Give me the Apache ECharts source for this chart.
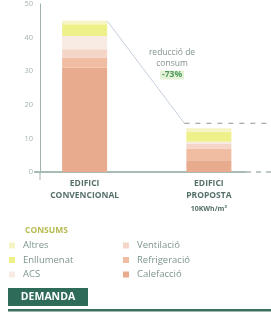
<!DOCTYPE html>
<html><head><meta charset="utf-8">
<script src="https://cdn.jsdelivr.net/npm/echarts@6/dist/echarts.min.js"></script>
<style>html,body{margin:0;padding:0;background:#fff;}#c{width:271px;height:319px;}</style>
</head><body><div id="c"></div>
<script>
const categories = ['EDIFICI\nCONVENCIONAL', 'EDIFICI\nPROPOSTA\n10KWh/m²'];
const seriesNames = ['Calefacció', 'Refrigeració', 'Ventilació', 'ACS', 'Enllumenat', 'Altres'];
const calefaccio = [31, 3.5];
const refrigeracio = [3, 3.5];
const ventilacio = [2.5, 1.5];
const acs = [4, 0.5];
const enllumenat = [3.5, 3];
const altres = [1, 1];
const yTicks = [0, 10, 20, 30, 40, 50];
const targetValue = 14.5;
const reductionText = ['reducció de', 'consum', '-73%'];
const legendCol1 = ['Altres', 'Enllumenat', 'ACS'];
const legendCol2 = ['Ventilació', 'Refrigeració', 'Calefacció'];

const colors = {
  'Calefacció': '#e9ab8d', 'Refrigeració': '#f0bca2', 'Ventilació': '#f5d5c8',
  'ACS': '#f8ebe3', 'Enllumenat': '#eef08a', 'Altres': '#f6f4c4'
};
const values = [calefaccio, refrigeracio, ventilacio, acs, enllumenat, altres];
const FONT = 'Open Sans';

const chart = echarts.init(document.getElementById('c'), null, {renderer: 'canvas'});
const series = seriesNames.map((n, i) => ({
  name: n, type: 'bar', stack: 'total', barWidth: 45,
  data: values[i], itemStyle: {color: colors[n]}, emphasis: {disabled: true}
}));

const legendBase = {
  orient: 'vertical', icon: 'rect', itemWidth: 6, itemHeight: 6, itemGap: 1.5,
  textStyle: {color: '#7d958b', fontSize: 9.5, lineHeight: 13, fontFamily: FONT, padding: [0, 0, 0, 3]},
  selectedMode: false, padding: 0
};

chart.setOption({
  animation: false,
  textStyle: {fontFamily: FONT},
  grid: {left: 22.5, width: 250, top: -2, bottom: 147, containLabel: false},
  xAxis: {
    type: 'category', data: categories,
    axisLine: {show: false}, axisTick: {show: false},
    axisLabel: {
      margin: 6, interval: 0, hideOverlap: false,
      formatter: v => v.split('\n').map((s, i) => (i < 2 ? '{a|' : '{b|') + s + '}').join('\n'),
      rich: {
        a: {color: '#55706a', fontSize: 8.5, fontWeight: 'bold', lineHeight: 12, fontFamily: FONT},
        b: {color: '#55706a', fontSize: 7, fontWeight: 'bold', lineHeight: 13, fontFamily: FONT}
      }
    }
  },
  yAxis: {
    type: 'value', min: 0, max: 50, interval: 10, offset: -17.5,
    axisLine: {show: true, lineStyle: {color: '#9fb2ab', width: 1}},
    axisTick: {show: false}, splitLine: {show: false},
    axisLabel: {color: '#a3b5ae', fontSize: 7.5, margin: 7, fontFamily: FONT,
      formatter: v => yTicks.includes(v) ? String(v) : ''}
  },
  legend: [
    Object.assign({}, legendBase, {data: legendCol1, left: 9, top: 239}),
    Object.assign({}, legendBase, {data: legendCol2, left: 123, top: 239})
  ],
  title: {text: 'CONSUMS', left: 25, top: 226, padding: 0,
    textStyle: {color: '#b8bb52', fontSize: 8.5, fontWeight: 'bold', fontFamily: FONT}},
  series: series
});

function draw() {
  const p0 = chart.convertToPixel({xAxisIndex: 0, yAxisIndex: 0}, [0, 0]);
  const xA = chart.convertToPixel({xAxisIndex: 0}, 0);
  const xB = chart.convertToPixel({xAxisIndex: 0}, 1);
  const tot0 = values.reduce((s, a) => s + a[0], 0);
  const yTop0 = chart.convertToPixel({yAxisIndex: 0}, tot0);
  const yT = chart.convertToPixel({yAxisIndex: 0}, targetValue);
  const y0 = p0[1];
  const axisX = 40;
  const barRight0 = xA + 22.5;
  const barLeft1 = xB - 22.5;
  const midX = 172;
  const g = [
    {type: 'line', shape: {x1: axisX - 6, y1: y0, x2: 246, y2: y0}, style: {stroke: '#4f7a6c', lineWidth: 1.2}},
    {type: 'line', shape: {x1: 246, y1: y0, x2: 271, y2: y0}, style: {stroke: '#7f948d', lineWidth: 1.2, lineDash: [5, 5]}},
    {type: 'line', shape: {x1: axisX, y1: y0, x2: axisX, y2: y0 + 8}, style: {stroke: '#9fb2ab', lineWidth: 1}},
    {type: 'line', shape: {x1: barRight0, y1: yTop0, x2: barLeft1 - 2, y2: yT}, style: {stroke: '#c4cfdc', lineWidth: 1}},
    {type: 'line', shape: {x1: barLeft1 - 2, y1: yT, x2: 271, y2: yT}, style: {stroke: '#8d9794', lineWidth: 1, lineDash: [5, 6]}},
    {type: 'text', x: midX, y: 53, style: {text: reductionText[0], fill: '#83938e', font: '8.5px "' + FONT + '"', align: 'center', verticalAlign: 'middle'}},
    {type: 'text', x: midX, y: 64, style: {text: reductionText[1], fill: '#83938e', font: '8.5px "' + FONT + '"', align: 'center', verticalAlign: 'middle'}},
    {type: 'text', x: midX, y: 75, style: {text: reductionText[2], fill: '#4e9a5e', font: 'bold 8.5px "' + FONT + '"', align: 'center', verticalAlign: 'middle',
      backgroundColor: '#e3f1d6', padding: [0, 2]}},
    {type: 'rect', shape: {x: 8, y: 288, width: 80, height: 18}, style: {fill: '#2f6b59'}},
    {type: 'text', x: 48, y: 297, style: {text: 'DEMANDA', fill: '#ffffff', font: 'bold 10.5px "' + FONT + '"', align: 'center', verticalAlign: 'middle'}},
    {type: 'rect', shape: {x: 8, y: 309, width: 263, height: 2.5}, style: {fill: '#3d6f5f'}}
  ];
  chart.setOption({graphic: g});
}
draw();
</script></body></html>
